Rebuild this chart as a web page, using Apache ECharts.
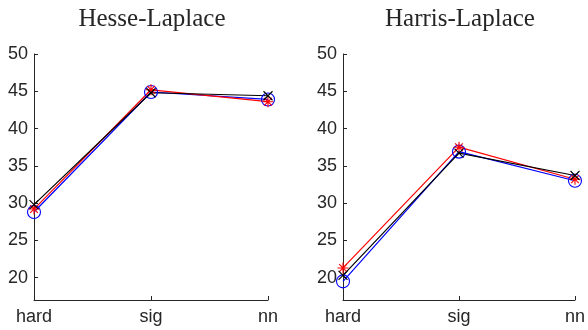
<!DOCTYPE html>
<html>
<head>
<meta charset="utf-8">
<script src="https://cdn.jsdelivr.net/npm/echarts@6/dist/echarts.min.js"></script>
<style>
  html, body { margin: 0; padding: 0; background: #fff; }
  #chart { width: 588px; height: 330px; }
</style>
</head>
<body>
<div id="chart"></div>
<script>
// Detector comparison: three methods on each of two interest-point detectors
const categories = ['hard', 'sig', 'nn'];
const panelTitles = ['Hesse-Laplace', 'Harris-Laplace'];
const yTicks = [20, 25, 30, 35, 40, 45, 50];

// Hesse-Laplace panel
const hesseCircle = [28.8, 44.9, 43.9];
const hesseStar   = [29.2, 45.2, 43.6];
const hesseCross  = [29.8, 44.8, 44.4];

// Harris-Laplace panel
const harrisCircle = [19.5, 36.9, 33.0];
const harrisStar   = [21.3, 37.5, 33.2];
const harrisCross  = [20.3, 36.7, 33.7];

const INK = '#262626';
const SANS = '"Liberation Sans", Arial, Helvetica, sans-serif';
const SERIF = '"Liberation Serif", "Times New Roman", serif';

const crossPath = 'path://M0,0L10,10M10,0L0,10';
const starPath = 'path://M5,0L5,10M0,5L10,5M1.5,1.5L8.5,8.5M8.5,1.5L1.5,8.5';

const grids = [
  { left: 34, top: 54, width: 234, height: 246 },
  { left: 343, top: 54, width: 234, height: 246 }
];

function xAxis(i) {
  return {
    type: 'category', gridIndex: i, data: categories, boundaryGap: false,
    axisLine: { lineStyle: { color: INK, width: 1 } },
    axisTick: { inside: true, length: 4, lineStyle: { color: INK } },
    axisLabel: { color: INK, fontFamily: SANS, fontSize: 18, margin: 8 },
    splitLine: { show: false }
  };
}

function yAxis(i) {
  return {
    type: 'value', gridIndex: i, min: 17, max: 50,
    axisLine: { show: true, lineStyle: { color: INK, width: 1 } },
    axisTick: { show: true, inside: true, length: 4, lineStyle: { color: INK },
      customValues: yTicks },
    axisLabel: { color: INK, fontFamily: SANS, fontSize: 18, margin: 6,
      customValues: yTicks },
    splitLine: { show: false }
  };
}

function series(i, data, color, symbol, size) {
  return {
    type: 'line', xAxisIndex: i, yAxisIndex: i, data: data,
    symbol: symbol, symbolSize: size, showSymbol: true, animation: false,
    lineStyle: { color: color, width: 1.2 },
    itemStyle: { color: 'rgba(0,0,0,0)', borderColor: color, borderWidth: 1.1 },
    emphasis: { disabled: true }
  };
}

const option = {
  backgroundColor: '#fff',
  animation: false,
  title: [
    { text: panelTitles[0], left: 147, top: 2, textAlign: 'center',
      textStyle: { fontFamily: SERIF, fontSize: 25, fontWeight: 'normal', color: INK } },
    { text: panelTitles[1], left: 455, top: 2, textAlign: 'center',
      textStyle: { fontFamily: SERIF, fontSize: 25, fontWeight: 'normal', color: INK } }
  ],
  grid: grids,
  xAxis: [xAxis(0), xAxis(1)],
  yAxis: [yAxis(0), yAxis(1)],
  series: [
    series(0, hesseCircle, '#0000ff', 'circle', 13),
    series(0, hesseStar, '#ff0000', starPath, 11),
    series(0, hesseCross, '#000000', crossPath, 9),
    series(1, harrisCircle, '#0000ff', 'circle', 13),
    series(1, harrisStar, '#ff0000', starPath, 11),
    series(1, harrisCross, '#000000', crossPath, 9)
  ]
};

const chart = echarts.init(document.getElementById('chart'), null, { renderer: 'canvas' });
chart.setOption(option);
</script>
</body>
</html>
